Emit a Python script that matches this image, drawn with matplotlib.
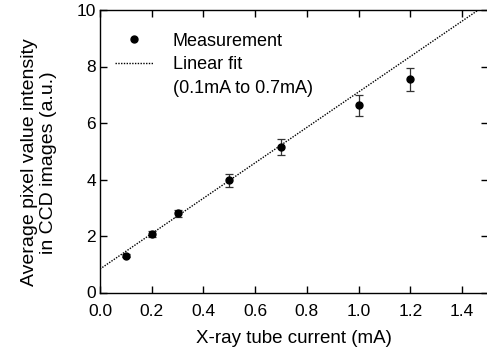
import matplotlib
matplotlib.use("Agg")
import matplotlib.pyplot as plt
from matplotlib.lines import Line2D

plt.rcParams['font.family'] = ['Liberation Sans', 'DejaVu Sans']
plt.rcParams['font.size'] = 12.5

current_ma = [0.1, 0.2, 0.3, 0.5, 0.7, 1.0, 1.2]
intensity = [1.30, 2.07, 2.80, 3.97, 5.15, 6.62, 7.55]
intensity_err = [0.06, 0.12, 0.13, 0.22, 0.30, 0.36, 0.41]

# linear fit (0.1mA to 0.7mA)
fit_slope = 6.27
fit_intercept = 0.83
fit_x = [0.0, 1.5]

x_ticks = [0.0, 0.2, 0.4, 0.6, 0.8, 1.0, 1.2, 1.4]
x_ticklabels = ["0.0", "0.2", "0.4", "0.6", "0.8", "1.0", "1.2", "1.4"]
y_ticks = [0, 2, 4, 6, 8, 10]

fig = plt.figure(figsize=(4.87, 3.5), dpi=100)
ax = fig.add_axes([100 / 487, 57.5 / 350, 388 / 487, 282.5 / 350])

fit_y = [fit_intercept + fit_slope * x for x in fit_x]
ax.plot(fit_x, fit_y, linestyle=(0, (1, 1)), color='black', linewidth=1.0)
ax.errorbar(current_ma, intensity, yerr=intensity_err, fmt='o', color='black',
            markersize=5, ecolor='#333333', elinewidth=0.9, capsize=3, capthick=0.9)

ax.set_xlim(0, 1.5)
ax.set_ylim(0, 10)
ax.set_xticks(x_ticks)
ax.set_xticklabels(x_ticklabels)
ax.set_yticks(y_ticks)
ax.tick_params(direction='in', length=5, width=1, top=True, right=True)
ax.tick_params(axis='y', pad=3)
ax.tick_params(axis='x', pad=8)
for s in ax.spines.values():
    s.set_linewidth(1.0)

ax.set_xlabel("X-ray tube current (mA)", fontsize=13.5, labelpad=8)
ax.set_ylabel("Average pixel value intensity\nin CCD images (a.u.)", fontsize=14,
              linespacing=1.15)
ax.yaxis.set_label_coords(-0.11, 0.46)

handles = [
    Line2D([], [], marker='o', linestyle='none', color='black', markersize=5),
    Line2D([], [], linestyle=(0, (1, 1)), color='black', linewidth=1.0),
    Line2D([], [], linestyle='none'),
]
labels = ["Measurement", "Linear fit", "(0.1mA to 0.7mA)"]
ax.legend(handles, labels, loc='upper left', frameon=False, handlelength=2.1,
          handletextpad=1.1, labelspacing=0.36, fontsize=13,
          borderaxespad=0.0, bbox_to_anchor=(0.02, 0.945))

fig.savefig("out.png", dpi=100)
